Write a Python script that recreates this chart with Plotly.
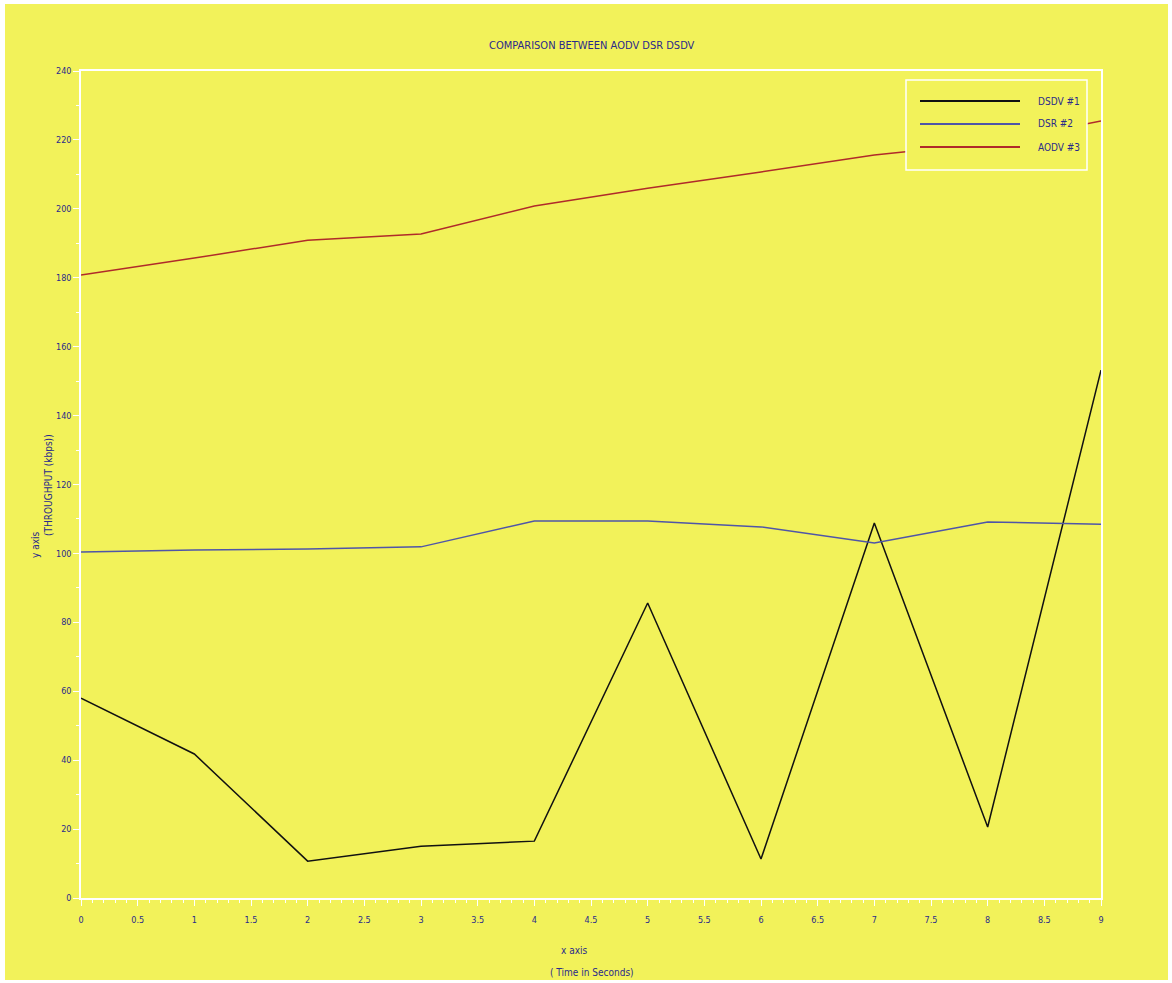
import plotly.graph_objects as go

time_s = [0, 1, 2, 3, 4, 5, 6, 7, 8, 9]
dsdv = [58, 41.8, 10.7, 15, 16.5, 85.6, 11.3, 108.8, 20.6, 153.2]
dsr = [100.4, 101, 101.3, 101.9, 109.4, 109.4, 107.7, 103, 109.1, 108.5]
aodv = [180.8, 185.7, 190.9, 192.7, 200.8, 206, 210.7, 215.6, 219, 225.5]

series_names = ["DSDV #1", "DSR #2", "AODV #3"]
series_colors = ["#111111", "#4f55a8", "#b02a2a"]

YELLOW = "#f2f25a"
NAVY = "#2a2a8a"

W, H = 1172, 983
L, R, T, B = 81, 71, 71, 85
PW, PH = W - L - R, H - T - B

def px(x):
    return (x - L) / PW

def py(y):
    return (H - B - y) / PH

fig = go.Figure()
for name, vals, col in zip(series_names, [dsdv, dsr, aodv], series_colors):
    fig.add_trace(go.Scatter(x=time_s, y=vals, mode="lines", name=name,
                             line=dict(color=col, width=1.5), showlegend=False))

shapes = [
    dict(type="rect", xref="paper", yref="paper", x0=px(5), x1=px(1168), y0=py(980), y1=py(4),
         fillcolor=YELLOW, line=dict(width=0), layer="below"),
    dict(type="rect", xref="paper", yref="paper", x0=px(906), x1=px(1087), y0=py(170), y1=py(80),
         fillcolor=YELLOW, line=dict(color="white", width=1.5), layer="above"),
]
annotations = []
for i, (name, col) in enumerate(zip(series_names, series_colors)):
    yy = py(101 + 23 * i)
    shapes.append(dict(type="line", xref="paper", yref="paper", x0=px(920), x1=px(1020), y0=yy, y1=yy,
                       line=dict(color=col, width=2), layer="above"))
    annotations.append(dict(text=name, xref="paper", yref="paper", x=px(1036), y=yy, xanchor="left",
                            yanchor="middle", showarrow=False, font=dict(size=10, color=NAVY)))

annotations += [
    dict(text="COMPARISON BETWEEN AODV DSR DSDV", xref="paper", yref="paper", x=px(592), y=py(46),
         showarrow=False, font=dict(size=11, color=NAVY), xanchor="center", yanchor="middle"),
    dict(text="x axis", xref="paper", yref="paper", x=px(574), y=py(950),
         showarrow=False, font=dict(size=10, color=NAVY), xanchor="center", yanchor="middle"),
    dict(text="( Time in Seconds)", xref="paper", yref="paper", x=px(592), y=py(972),
         showarrow=False, font=dict(size=10, color=NAVY), xanchor="center", yanchor="middle"),
    dict(text="y axis", xref="paper", yref="paper", x=px(35), y=py(545), textangle=-90,
         showarrow=False, font=dict(size=10, color=NAVY), xanchor="center", yanchor="middle"),
    dict(text="(THROUGHPUT (kbps))", xref="paper", yref="paper", x=px(48), y=py(485), textangle=-90,
         showarrow=False, font=dict(size=10, color=NAVY), xanchor="center", yanchor="middle"),
]

fig.update_layout(
    width=W, height=H,
    margin=dict(l=L, r=R, t=T, b=B),
    paper_bgcolor="white",
    plot_bgcolor=YELLOW,
    font=dict(family="DejaVu Sans Condensed, DejaVu Sans", size=10, color=NAVY),
    shapes=shapes,
    annotations=annotations,
    xaxis=dict(range=[0, 9], tickmode="linear", tick0=0, dtick=0.5, showgrid=False, zeroline=False,
               showline=True, linecolor="white", linewidth=1.5, mirror=True,
               ticks="outside", ticklen=6, tickcolor="white", tickwidth=1, ticklabelstandoff=6,
               minor=dict(dtick=0.1, ticks="outside", ticklen=3, tickcolor="white", showgrid=False),
               tickfont=dict(size=9, color=NAVY)),
    yaxis=dict(range=[0, 240], tickmode="linear", tick0=0, dtick=20, showgrid=False, zeroline=False,
               showline=True, linecolor="white", linewidth=1.5, mirror=True,
               ticks="outside", ticklen=6, tickcolor="white", tickwidth=1,
               minor=dict(dtick=10, ticks="outside", ticklen=3, tickcolor="white", showgrid=False),
               tickfont=dict(size=9, color=NAVY)),
)

fig.write_html("out.html")
